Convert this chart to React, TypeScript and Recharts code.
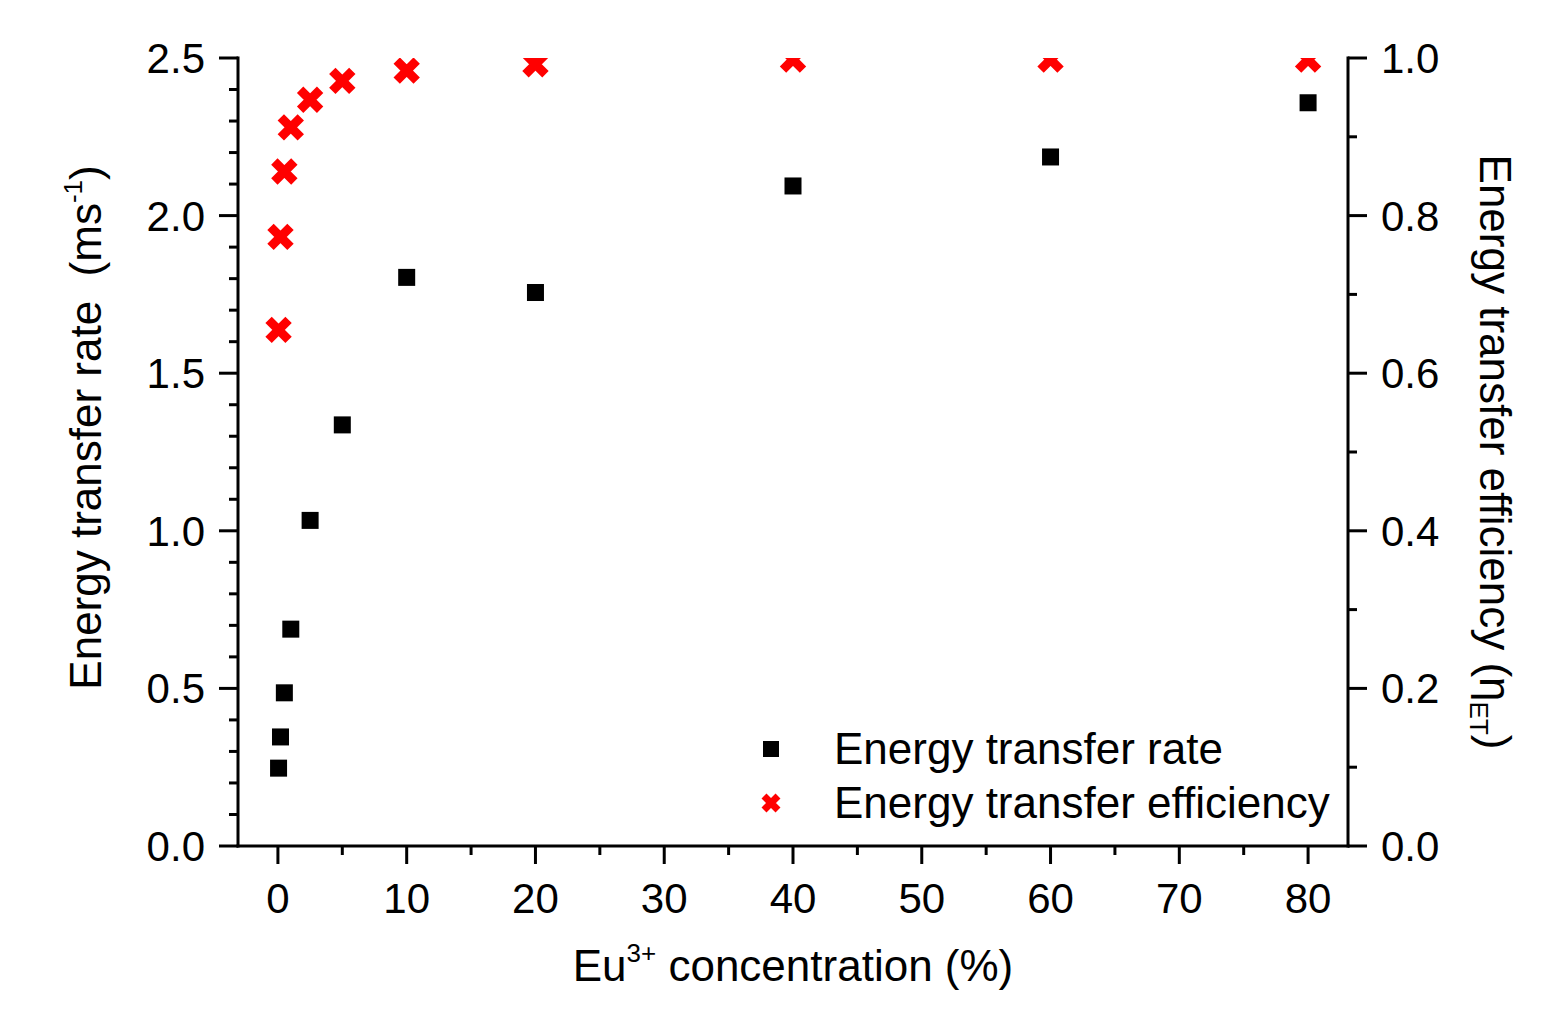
import React from "react";
import { ScatterChart, Scatter, XAxis, YAxis, Legend, Label } from "recharts";

// Eu3+ doping level (%) for each sample
const concentration = [0.05, 0.2, 0.5, 1, 2.5, 5, 10, 20, 40, 60, 80];
// energy transfer rate (ms^-1)
const transferRate = [0.247, 0.346, 0.486, 0.688, 1.033, 1.336, 1.804, 1.756, 2.094, 2.186, 2.358];
// energy transfer efficiency (eta_ET)
const transferEfficiency = [0.655, 0.773, 0.856, 0.912, 0.947, 0.971, 0.984, 0.992, 0.998, 0.998, 0.998];

const seriesNames = ["Energy transfer rate", "Energy transfer efficiency"];

const concentrationTicks = [0, 5, 10, 15, 20, 25, 30, 35, 40, 45, 50, 55, 60, 65, 70, 75, 80];
const rateTicks = [
  0, 0.1, 0.2, 0.3, 0.4, 0.5, 0.6, 0.7, 0.8, 0.9, 1.0, 1.1, 1.2, 1.3, 1.4, 1.5, 1.6, 1.7, 1.8, 1.9, 2.0,
  2.1, 2.2, 2.3, 2.4, 2.5,
];
const efficiencyTicks = [0, 0.1, 0.2, 0.3, 0.4, 0.5, 0.6, 0.7, 0.8, 0.9, 1.0];

const rateData = concentration.map((c, i) => ({ x: c, y: transferRate[i] }));
const efficiencyData = concentration.map((c, i) => ({ x: c, y: transferEfficiency[i] }));

const FONT = '"Liberation Sans", Arial, Helvetica, sans-serif';
const W = 1531;
const H = 1000;
const PLOT_LEFT = 230;
const PLOT_TOP = 50;
const PLOT_W = 1110;

const isMultiple = (v: number, step: number) => Math.abs(v / step - Math.round(v / step)) < 1e-6;

function SquareMark({ cx, cy, size = 17 }: any) {
  return <rect x={cx - size / 2} y={cy - size / 2} width={size} height={size} fill="#000" />;
}

function CrossMark({ cx, cy, r = 10, w = 9 }: any) {
  return (
    <path
      d={`M${cx - r},${cy - r}L${cx + r},${cy + r}M${cx + r},${cy - r}L${cx - r},${cy + r}`}
      stroke="#ff0000"
      strokeWidth={w}
      fill="none"
    />
  );
}

function BottomTick({ x, y, payload }: any) {
  const major = isMultiple(payload.value, 10);
  return (
    <g>
      <line x1={x} x2={x} y1={y} y2={y + (major ? 18 : 9)} stroke="#000" strokeWidth={3} />
      {major && (
        <text x={x} y={y + 67} textAnchor="middle" fontSize={42} fontFamily={FONT} fill="#000">
          {payload.value}
        </text>
      )}
    </g>
  );
}

function LeftTick({ x, y, payload }: any) {
  const major = isMultiple(payload.value, 0.5);
  return (
    <g>
      <line x1={x} x2={x - (major ? 19 : 9)} y1={y} y2={y} stroke="#000" strokeWidth={3} />
      {major && (
        <text x={x - 33} y={y + 15} textAnchor="end" fontSize={42} fontFamily={FONT} fill="#000">
          {payload.value.toFixed(1)}
        </text>
      )}
    </g>
  );
}

function RightTick({ x, y, payload }: any) {
  const major = isMultiple(payload.value, 0.2);
  return (
    <g>
      <line x1={x} x2={x + (major ? 19 : 9)} y1={y} y2={y} stroke="#000" strokeWidth={3} />
      {major && (
        <text x={x + 33} y={y + 15} textAnchor="start" fontSize={42} fontFamily={FONT} fill="#000">
          {payload.value.toFixed(1)}
        </text>
      )}
    </g>
  );
}

// keep the legend rows in series order, whatever order recharts hands them over
function LegendBox({ payload }: any) {
  const items = [...(payload ?? [])].sort(
    (a: any, b: any) => seriesNames.indexOf(a.value) - seriesNames.indexOf(b.value)
  );
  return (
    <div style={{ fontFamily: FONT, fontSize: 44, lineHeight: "54px", color: "#000" }}>
      {items.map((it: any) => (
        <div key={it.value} style={{ display: "flex", alignItems: "center", height: 54, whiteSpace: "nowrap" }}>
          <svg width={30} height={30} style={{ display: "block" }}>
            {it.value === seriesNames[0] ? (
              <SquareMark cx={15} cy={15} size={16} />
            ) : (
              <CrossMark cx={15} cy={15} r={7} w={7} />
            )}
          </svg>
          <span style={{ marginLeft: 48 }}>{it.value}</span>
        </div>
      ))}
    </div>
  );
}

const axisLine = { stroke: "#000", strokeWidth: 3, strokeLinecap: "square" as const };

export default function App() {
  return (
    <div style={{ width: W, height: H }}>
      <ScatterChart width={W} height={H} margin={{ top: PLOT_TOP, right: 0, bottom: 0, left: 0 }}>
        <XAxis
          xAxisId="top"
          orientation="top"
          type="number"
          domain={[-3.1, 83.1]}
          allowDataOverflow
          height={0}
          tick={false}
          tickLine={false}
          axisLine={axisLine}
        />
        <XAxis
          dataKey="x"
          type="number"
          domain={[-3.1, 83.1]}
          allowDataOverflow
          ticks={concentrationTicks}
          interval={0}
          height={162}
          tickSize={0}
          tickMargin={0}
          tickLine={false}
          axisLine={axisLine}
          tick={(p: any) => <BottomTick {...p} />}
        >
          <Label
            content={() => (
              <text x={PLOT_LEFT + PLOT_W / 2} y={973} textAnchor="middle" fontFamily={FONT} fontSize={44} fill="#000">
                <tspan>Eu</tspan>
                <tspan fontSize={26} dy={-19}>3+</tspan>
                <tspan dy={19}> concentration (%)</tspan>
              </text>
            )}
          />
        </XAxis>
        <YAxis
          yAxisId="rate"
          dataKey="y"
          type="number"
          domain={[0, 2.5]}
          allowDataOverflow
          ticks={rateTicks}
          interval={0}
          width={PLOT_LEFT}
          tickSize={0}
          tickMargin={0}
          tickLine={false}
          axisLine={axisLine}
          tick={(p: any) => <LeftTick {...p} />}
        >
          <Label
            content={() => (
              <text
                x={93}
                y={419.5}
                transform="rotate(-90 93 419.5)"
                textAnchor="middle"
                fontFamily={FONT}
                fontSize={44}
                fill="#000"
                style={{ whiteSpace: "pre" }}
              >
                <tspan>Energy transfer rate  (ms</tspan>
                <tspan fontSize={26} dy={-19}>-1</tspan>
                <tspan dy={19}>)</tspan>
              </text>
            )}
          />
        </YAxis>
        <YAxis
          yAxisId="eff"
          orientation="right"
          dataKey="y"
          type="number"
          domain={[0, 1]}
          allowDataOverflow
          ticks={efficiencyTicks}
          interval={0}
          width={W - PLOT_LEFT - PLOT_W}
          tickSize={0}
          tickMargin={0}
          tickLine={false}
          axisLine={axisLine}
          tick={(p: any) => <RightTick {...p} />}
        >
          <Label
            content={() => (
              <text
                x={1472}
                y={444}
                transform="rotate(90 1472 444)"
                textAnchor="middle"
                fontFamily={FONT}
                fontSize={44}
                fill="#000"
              >
                <tspan>Energy transfer efficiency (η</tspan>
                <tspan fontSize={26} dy={10}>ET</tspan>
                <tspan dy={-10}>)</tspan>
              </text>
            )}
          />
        </YAxis>
        <Scatter
          name={seriesNames[0]}
          data={rateData}
          yAxisId="rate"
          fill="#000"
          isAnimationActive={false}
          shape={(p: any) => <SquareMark cx={p.cx} cy={p.cy} />}
        />
        <Scatter
          name={seriesNames[1]}
          data={efficiencyData}
          yAxisId="eff"
          fill="#ff0000"
          isAnimationActive={false}
          shape={(p: any) => <CrossMark cx={p.cx} cy={p.cy} />}
        />
        <Legend
          layout="vertical"
          align="center"
          verticalAlign="middle"
          content={(p: any) => <LegendBox {...p} />}
          wrapperStyle={{ left: 748, top: 714, width: "auto", height: "auto" }}
        />
      </ScatterChart>
    </div>
  );
}
